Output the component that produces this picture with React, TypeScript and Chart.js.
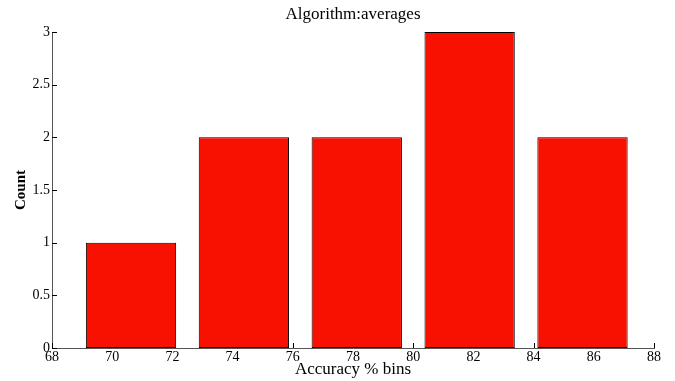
import React, { useEffect, useRef } from "react";
import { Chart, registerables } from "chart.js";

Chart.register(...registerables);

// ---- data ----
const binCenters = [70.625, 74.375, 78.125, 81.875, 85.625];
const counts = [1, 2, 2, 3, 2];
const xTickValues = [68, 70, 72, 74, 76, 78, 80, 82, 84, 86, 88];
const yTickValues = [0, 0.5, 1, 1.5, 2, 2.5, 3];
const titleText = "Algorithm:averages";
const xLabel = "Accuracy % bins";
const yLabel = "Count";

const FONT = "'Liberation Serif', 'Times New Roman', serif";

const inwardTicks = {
  id: "inwardTicks",
  beforeDatasetsDraw(chart: any) {
    const { ctx, chartArea, scales } = chart;
    ctx.save();
    ctx.strokeStyle = "#000";
    ctx.lineWidth = 1;
    ctx.beginPath();
    for (const v of xTickValues) {
      const px = Math.round(scales.x.getPixelForValue(v)) + 0.5;
      ctx.moveTo(px, chartArea.bottom);
      ctx.lineTo(px, chartArea.bottom - 5);
    }
    for (const v of yTickValues) {
      const py = Math.round(scales.y.getPixelForValue(v)) + 0.5;
      ctx.moveTo(chartArea.left, py);
      ctx.lineTo(chartArea.left + 5, py);
    }
    ctx.stroke();
    ctx.restore();
  },
};

export default function App() {
  const ref = useRef<HTMLCanvasElement | null>(null);
  useEffect(() => {
    if (!ref.current) return;
    const chart = new Chart(ref.current, {
      type: "bar",
      data: {
        datasets: [
          {
            data: binCenters.map((c, i) => ({ x: c, y: counts[i] })),
            xAxisID: "xb",
            yAxisID: "y",
            backgroundColor: "#f81000",
            borderColor: "#000",
            borderWidth: 1,
            borderSkipped: false,
            categoryPercentage: 1,
            barPercentage: 0.8,
          } as any,
        ],
      },
      options: {
        responsive: false,
        animation: false,
        layout: { padding: { left: 0, right: 21, top: 0, bottom: 0 } },
        plugins: {
          legend: { display: false },
          tooltip: { enabled: false },
          title: {
            display: true,
            text: titleText,
            fullSize: false,
            color: "#000",
            font: { family: FONT, size: 17, weight: "normal" },
            padding: { top: 4.8, bottom: 6.8 },
          },
        },
        scales: {
          x: {
            type: "linear",
            offset: false,
            min: xTickValues[0],
            max: xTickValues[xTickValues.length - 1],
            afterBuildTicks: (s: any) => {
              s.ticks = xTickValues.map((v) => ({ value: v }));
            },
            afterFit: (s: any) => {
              s.height = 33;
            },
            grid: { display: false, drawTicks: false, offset: false },
            border: { display: true, color: "#555", width: 1 },
            ticks: {
              color: "#000",
              padding: 1,
              maxRotation: 0,
              autoSkip: false,
              font: { family: FONT, size: 14 },
              callback: (v: any) => String(Number(v)),
            },
            title: {
              display: true,
              text: xLabel,
              color: "#000",
              font: { family: FONT, size: 17 },
              padding: { top: 0, bottom: 0.8 },
            },
          },
          xb: {
            type: "linear",
            display: false,
            offset: false,
            grid: { offset: false },
            min: xTickValues[0],
            max: xTickValues[xTickValues.length - 1],
            afterBuildTicks: (s: any) => {
              s.ticks = [
                { value: xTickValues[0] },
                { value: xTickValues[xTickValues.length - 1] },
              ];
            },
          },
          y: {
            type: "linear",
            min: yTickValues[0],
            max: yTickValues[yTickValues.length - 1],
            afterBuildTicks: (s: any) => {
              s.ticks = yTickValues.map((v) => ({ value: v }));
            },
            afterFit: (s: any) => {
              s.width = 52;
            },
            grid: { display: false, drawTicks: false },
            border: { display: true, color: "#555", width: 1 },
            ticks: {
              color: "#000",
              padding: 2,
              font: { family: FONT, size: 14 },
              callback: (v: any) => String(Number(v)),
            },
            title: {
              display: true,
              text: yLabel,
              color: "#000",
              font: { family: FONT, size: 15, weight: "bold" },
              padding: { top: 12, bottom: 0 },
            },
          },
        },
      },
      plugins: [inwardTicks],
    } as any);
    return () => chart.destroy();
  }, []);
  return (
    <div style={{ position: "absolute", left: 0, top: 0, width: 675, height: 381, background: "#fff" }}>
      <canvas ref={ref} width={675} height={381} />
    </div>
  );
}
